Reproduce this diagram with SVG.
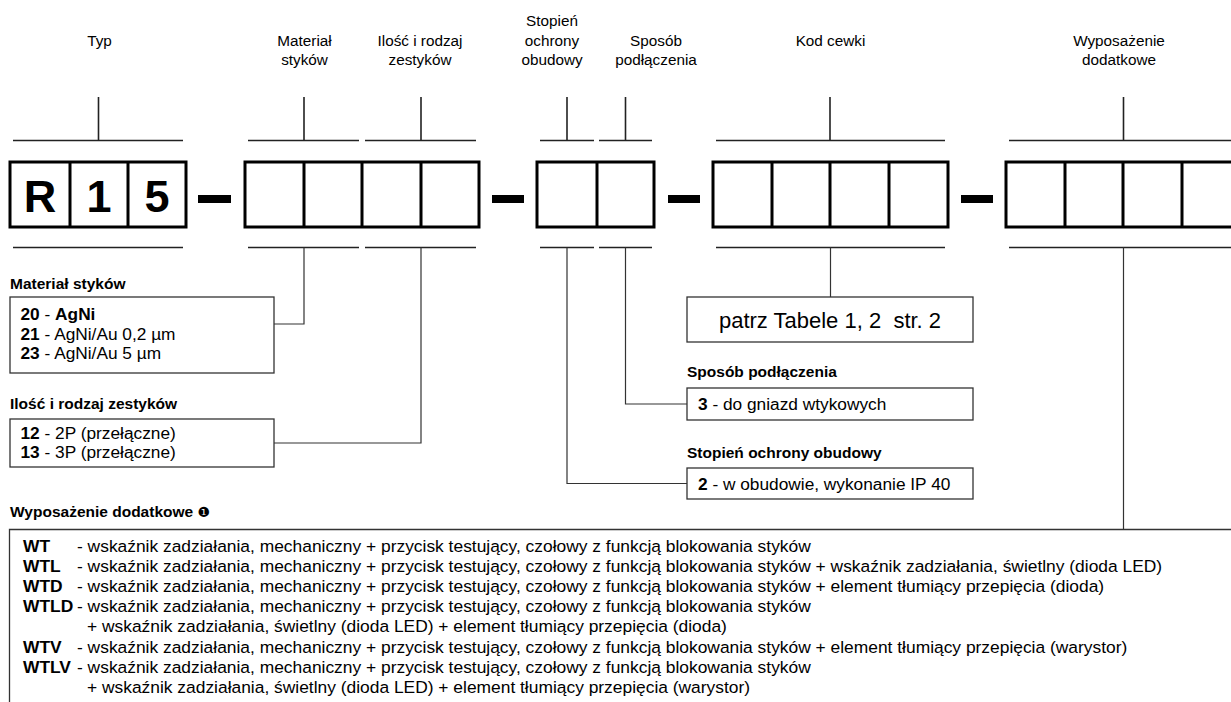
<svg xmlns="http://www.w3.org/2000/svg" width="1231" height="702" viewBox="0 0 1231 702">
<style>
text{font-family:"Liberation Sans",Arial,Helvetica,sans-serif;fill:#000}
.lbl{font-size:15.3px;text-anchor:middle}
.hd{font-size:15.5px;font-weight:bold}
.bd{font-size:17.3px}
.ls{font-size:17.4px}
.b{font-weight:bold}
.big{font-size:45px;font-weight:bold;text-anchor:middle}
.grp{fill:#fff;stroke:#000;stroke-width:3}
.div{stroke:#000;stroke-width:3}
.dash{fill:#000}
.br{stroke:#222;stroke-width:1.6;fill:none}
.con{stroke:#333;stroke-width:1.2;fill:none}
.box{fill:#fff;stroke:#333;stroke-width:1.3}
.sym{font-family:"DejaVu Sans",sans-serif;font-size:14px;font-weight:normal}
</style>
<rect width="1231" height="702" fill="#fff"/>

<!-- header labels and top brackets -->
<g id="hdr-typ">
  <text class="lbl" x="99.5" y="45.5">Typ</text>
  <path class="br" d="M13,140.5H183M98.5,97V140.5"/>
</g>
<g id="hdr-material">
  <text class="lbl" x="304.5" y="45.5">Materiał</text>
  <text class="lbl" x="304.5" y="65">styków</text>
  <path class="br" d="M248,140.5H359M304,97V140.5"/>
</g>
<g id="hdr-ilosc">
  <text class="lbl" x="420" y="45.5">Ilość i rodzaj</text>
  <text class="lbl" x="420" y="65">zestyków</text>
  <path class="br" d="M365,140.5H476M421,97V140.5"/>
</g>
<g id="hdr-stopien">
  <text class="lbl" x="552" y="25.5">Stopień</text>
  <text class="lbl" x="552" y="45.5">ochrony</text>
  <text class="lbl" x="552" y="65">obudowy</text>
  <path class="br" d="M540,140.5H594M567,97V140.5"/>
</g>
<g id="hdr-sposob">
  <text class="lbl" x="656" y="45.5">Sposób</text>
  <text class="lbl" x="656" y="65">podłączenia</text>
  <path class="br" d="M599,140.5H652M625.5,97V140.5"/>
</g>
<g id="hdr-kod">
  <text class="lbl" x="830.5" y="45.5">Kod cewki</text>
  <path class="br" d="M716,140.5H945M830,97V140.5"/>
</g>
<g id="hdr-wyp">
  <text class="lbl" x="1119" y="45.5">Wyposażenie</text>
  <text class="lbl" x="1119" y="65">dodatkowe</text>
  <path class="br" d="M1009,140.5H1237M1123.5,97V140.5"/>
</g>

<!-- code boxes -->
<g id="code-typ">
  <rect class="grp" x="10" y="162" width="176" height="65"/>
  <path class="div" d="M70,162V227M128,162V227"/>
  <text class="big" x="40" y="211.5">R</text>
  <text class="big" x="99" y="211.5">1</text>
  <text class="big" x="157" y="211.5">5</text>
</g>
<g id="code-mat-ilosc">
  <rect class="grp" x="245" y="162" width="234" height="65"/>
  <path class="div" d="M304,162V227M362,162V227M421,162V227"/>
</g>
<g id="code-stop-spos">
  <rect class="grp" x="537" y="162" width="117" height="65"/>
  <path class="div" d="M597,162V227"/>
</g>
<g id="code-kod">
  <rect class="grp" x="713" y="162" width="235" height="65"/>
  <path class="div" d="M772,162V227M830,162V227M889,162V227"/>
</g>
<g id="code-wyp">
  <rect class="grp" x="1006" y="162" width="234" height="65"/>
  <path class="div" d="M1065,162V227M1123,162V227M1182,162V227"/>
</g>
<g id="dashes">
  <rect class="dash" x="198" y="195" width="33" height="8"/>
  <rect class="dash" x="492" y="195" width="32" height="8"/>
  <rect class="dash" x="668" y="195" width="32" height="8"/>
  <rect class="dash" x="961" y="195" width="32" height="8"/>
</g>

<!-- bottom brackets and connectors -->
<g id="connectors">
  <path class="br" d="M13,247.5H183M248,247.5H359M365,247.5H476M540,247.5H594M599,247.5H652M716,247.5H945M1009,247.5H1237"/>
  <path class="con" d="M304,247.5V324H274"/>
  <path class="con" d="M421,247.5V443H274"/>
  <path class="con" d="M567,247.5V483.5H687"/>
  <path class="con" d="M625.5,247.5V404H687"/>
  <path class="con" d="M830.5,247.5V297"/>
  <path class="con" d="M1123.5,247.5V529.5"/>
</g>

<!-- legends -->
<g id="leg-material">
  <text class="hd" x="10" y="288.5">Materiał styków</text>
  <rect class="box" x="10" y="297" width="264" height="76"/>
  <text class="bd" x="20.5" y="320"><tspan class="b">20</tspan> - <tspan class="b">AgNi</tspan></text>
  <text class="bd" x="20.5" y="339.5"><tspan class="b">21</tspan> - AgNi/Au 0,2 µm</text>
  <text class="bd" x="20.5" y="359"><tspan class="b">23</tspan> - AgNi/Au 5 µm</text>
</g>
<g id="leg-ilosc">
  <text class="hd" x="10" y="408.5">Ilość i rodzaj zestyków</text>
  <rect class="box" x="10" y="419" width="264" height="48"/>
  <text class="bd" x="20.5" y="439"><tspan class="b">12</tspan> - 2P (przełączne)</text>
  <text class="bd" x="20.5" y="457.5"><tspan class="b">13</tspan> - 3P (przełączne)</text>
</g>
<g id="leg-kod">
  <rect class="box" x="687" y="297" width="286" height="45"/>
  <text x="830" y="327.5" style="font-size:22px;text-anchor:middle">patrz Tabele 1, 2&#160; str. 2</text>
</g>
<g id="leg-sposob">
  <text class="hd" x="687" y="377">Sposób podłączenia</text>
  <rect class="box" x="687" y="388" width="286" height="32"/>
  <text class="bd" x="698" y="410"><tspan class="b">3</tspan> - do gniazd wtykowych</text>
</g>
<g id="leg-stopien">
  <text class="hd" x="687" y="458">Stopień ochrony obudowy</text>
  <rect class="box" x="687" y="468" width="286" height="31"/>
  <text class="bd" x="698" y="489.5"><tspan class="b">2</tspan> - w obudowie, wykonanie IP 40</text>
</g>
<g id="leg-wyp">
  <text class="hd" x="10" y="517">Wyposażenie dodatkowe <tspan class="sym">❶</tspan></text>
  <path class="con" d="M1231,529.5H9.5V704" style="stroke-width:1.3"/>
  <g class="ls">
    <text class="ls b" x="23" y="552">WT</text>
    <text class="ls" x="77" y="552">- wskaźnik zadziałania, mechaniczny + przycisk testujący, czołowy z funkcją blokowania styków</text>
    <text class="ls b" x="23" y="572.1">WTL</text>
    <text class="ls" x="77" y="572.1">- wskaźnik zadziałania, mechaniczny + przycisk testujący, czołowy z funkcją blokowania styków + wskaźnik zadziałania, świetlny (dioda LED)</text>
    <text class="ls b" x="23" y="592.2">WTD</text>
    <text class="ls" x="77" y="592.2">- wskaźnik zadziałania, mechaniczny + przycisk testujący, czołowy z funkcją blokowania styków + element tłumiący przepięcia (dioda)</text>
    <text class="ls b" x="23" y="612.3">WTLD</text>
    <text class="ls" x="77" y="612.3">- wskaźnik zadziałania, mechaniczny + przycisk testujący, czołowy z funkcją blokowania styków</text>
    <text class="ls" x="87" y="632.4">+ wskaźnik zadziałania, świetlny (dioda LED) + element tłumiący przepięcia (dioda)</text>
    <text class="ls b" x="23" y="652.5">WTV</text>
    <text class="ls" x="77" y="652.5">- wskaźnik zadziałania, mechaniczny + przycisk testujący, czołowy z funkcją blokowania styków + element tłumiący przepięcia (warystor)</text>
    <text class="ls b" x="23" y="672.6">WTLV</text>
    <text class="ls" x="77" y="672.6">- wskaźnik zadziałania, mechaniczny + przycisk testujący, czołowy z funkcją blokowania styków</text>
    <text class="ls" x="87" y="692.7">+ wskaźnik zadziałania, świetlny (dioda LED) + element tłumiący przepięcia (warystor)</text>
  </g>
</g>
</svg>
